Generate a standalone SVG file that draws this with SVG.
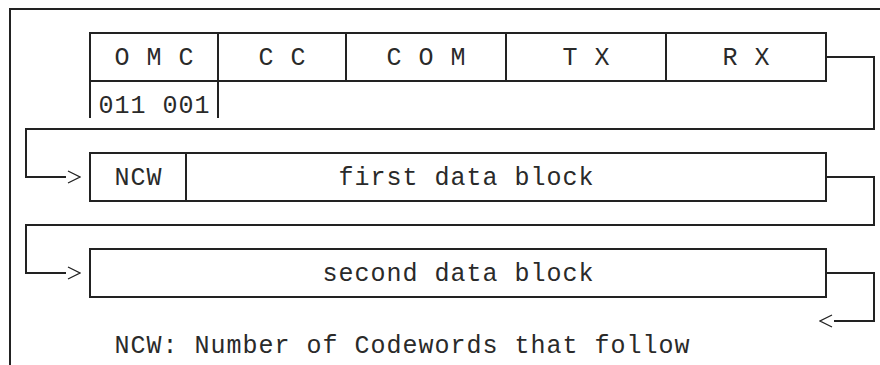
<svg xmlns="http://www.w3.org/2000/svg" width="880" height="365" viewBox="0 0 880 365">
<defs>
<style>
.ln{fill:none;stroke:#222;stroke-width:2;stroke-linejoin:miter}
.box{fill:none;stroke:#222;stroke-width:2}
text{font-family:"Liberation Mono","Courier New",monospace;font-size:25px;letter-spacing:1px;fill:#2a2a2a}
.conn{fill:none;stroke:#222;stroke-width:2;stroke-linejoin:miter;marker-end:url(#chev)}
</style>
<marker id="chev" markerUnits="userSpaceOnUse" viewBox="0 0 14 14" refX="-1" refY="7" markerWidth="14" markerHeight="14" orient="auto">
<path d="M1,1 L13,7 L1,13" fill="none" stroke="#222" stroke-width="1.3"/>
</marker>
</defs>
<rect width="880" height="365" fill="#fff"/>
<g id="frame">
<path class="ln" d="M880,9 H10 V365"/>
</g>
<g id="header">
<rect class="box" x="90" y="33" width="736" height="48"/>
<path class="ln" d="M218,33 V81 M346,33 V81 M506,33 V81 M666,33 V81"/>
<text x="114.5" y="65">O M C</text>
<text x="258.5" y="65">C C</text>
<text x="386.5" y="65">C O M</text>
<text x="562.5" y="65">T X</text>
<text x="722.5" y="65">R X</text>
</g>
<g id="omc-value">
<path class="ln" d="M90,81 V118 M218,81 V118"/>
<text x="98.5" y="113">011 001</text>
</g>
<g id="first-block">
<rect class="box" x="90" y="153" width="736" height="48"/>
<path class="ln" d="M186,153 V201"/>
<text x="114.5" y="185">NCW</text>
<text x="338.5" y="185">first data block</text>
</g>
<g id="second-block">
<rect class="box" x="90" y="249" width="736" height="48"/>
<text x="322.5" y="281">second data block</text>
</g>
<g id="legend">
<text x="114.5" y="353">NCW: Number of Codewords that follow</text>
</g>
<g id="connectors">
<path class="conn" d="M826,57 H874 V129 H26 V177 H66"/>
<path class="conn" d="M826,177 H874 V225 H26 V273 H66"/>
<path class="conn" d="M826,273 H874 V321 H834"/>
</g>
</svg>
